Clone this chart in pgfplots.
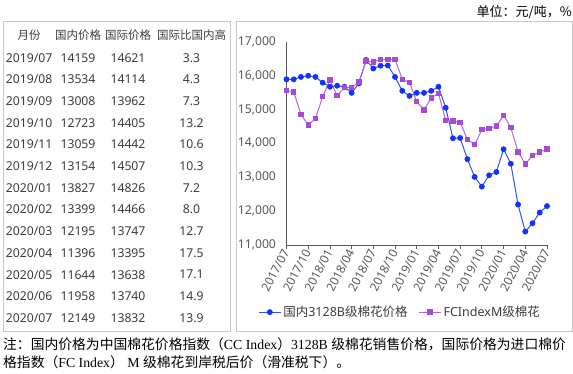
\documentclass[border=0pt]{standalone}
\usepackage{fontspec}
\setmainfont{Liberation Serif}
\newfontfamily\cjk{Noto Sans CJK SC}
\newfontfamily\lat{Noto Sans}
\usepackage{pgfplots}
\pgfplotsset{compat=1.18}
\definecolor{bluel}{RGB}{45,85,240}
\definecolor{bluem}{RGB}{20,50,255}
\definecolor{purl}{RGB}{180,100,220}
\definecolor{purm}{RGB}{165,75,215}
\definecolor{txt}{RGB}{60,60,60}
\definecolor{tick}{RGB}{89,89,89}
\definecolor{boxc}{RGB}{200,200,200}
\begin{document}
\begin{tikzpicture}[x=1pt,y=1pt]
\path (0pt,0pt) rectangle (573pt,373pt);
\draw[boxc, line width=0.8pt] (3.3pt,352pt) rectangle (230pt,42pt);
\draw[boxc, line width=0.8pt] (236.7pt,352pt) rectangle (572.5pt,42pt);
\node[anchor=east, inner sep=0] at (572pt,361pt) {\fontsize{13}{15}\selectfont\cjk 单位：元/吨，\%};
% table header
\begin{scope}[every node/.style={inner sep=0, text=txt}]
\node at (29pt,338pt) {\fontsize{11.5}{14}\selectfont\cjk 月份};
\node at (78pt,338pt) {\fontsize{11.5}{14}\selectfont\cjk 国内价格};
\node at (128pt,338pt) {\fontsize{11.5}{14}\selectfont\cjk 国际价格};
\node at (191.5pt,338pt) {\fontsize{11.5}{14}\selectfont\cjk 国际比国内高};
\foreach \yy/\mm/\a/\b/\c [count=\i from 0] in {
2019/07/14159/14621/3.3,
2019/08/13534/14114/4.3,
2019/09/13008/13962/7.3,
2019/10/12723/14405/13.2,
2019/11/13059/14442/10.6,
2019/12/13154/14507/10.3,
2020/01/13827/14826/7.2,
2020/02/13399/14466/8.0,
2020/03/12195/13747/12.7,
2020/04/11396/13395/17.5,
2020/05/11644/13638/17.1,
2020/06/11958/13740/14.9,
2020/07/12149/13832/13.9}{
\pgfmathsetmacro{\ry}{315.3-21.7*\i}
\node[anchor=west] at (5.7pt,\ry pt) {\fontsize{12.2}{14}\selectfont\lat \yy/\mm};
\node at (78pt,\ry pt) {\fontsize{12.2}{14}\selectfont\lat \a};
\node at (128pt,\ry pt) {\fontsize{12.2}{14}\selectfont\lat \b};
\node at (191.5pt,\ry pt) {\fontsize{12.2}{14}\selectfont\lat \c};
}
\end{scope}
% note
\node[anchor=west, inner sep=0] at (3pt,29pt) {\fontsize{13.8}{15}\selectfont{\cjk 注：国内价格为中国棉花价格指数（}CC Index{\cjk ）}3128B {\cjk 级棉花销售价格，国际价格为进口棉价}};
\node[anchor=west, inner sep=0] at (3pt,11pt) {\fontsize{13.8}{15}\selectfont{\cjk 格指数（}FC Index{\cjk ）} M {\cjk 级棉花到岸税后价（滑准税下）。}};
\begin{axis}[
  at={(286.5pt,128pt)}, anchor=south west,
  width=260.5pt, height=203.3pt, scale only axis,
  xmin=0, xmax=36, ymin=11000, ymax=17000,
  axis x line*=bottom, axis y line*=left,
  axis line style={-, draw=tick, line width=0.9pt},
  xtick={0,3,...,36},
  xticklabels={2017/07,2017/10,2018/01,2018/04,2018/07,2018/10,2019/01,2019/04,2019/07,2019/10,2020/01,2020/04,2020/07},
  ytick={11000,12000,...,17000},
  scaled y ticks=false,
  tick align=outside,
  major tick length=4pt,
  x tick style={draw=tick, line width=0.8pt},
  y tick style={draw=none},
  /pgf/number format/1000 sep={,},
  /pgf/number format/assume math mode=true,
  ticklabel style={font=\fontsize{12.2}{14}\selectfont\lat, text=tick},
  yticklabel style={xshift=-3pt},
  xticklabel style={rotate=62, anchor=east, inner sep=1pt, font=\fontsize{12}{14}\selectfont\lat},
  legend style={at={(0.436,-0.33)}, anchor=center, draw=none, fill=none,
    legend columns=2, font=\fontsize{12.5}{14}\selectfont\lat, text=txt,
    /tikz/every even column/.append style={column sep=9pt}},
  legend image code/.code={\draw[mark repeat=2,mark phase=2] plot coordinates {(0pt,0pt) (11pt,0pt) (22pt,0pt)};},
  clip=false,
]
\addplot[color=bluel, line width=1pt, mark=*, mark size=2.4pt, mark options={fill=bluem, draw=bluem}] table[row sep=\\] {
x y\\
0 15890\\ 1 15890\\ 2 15960\\ 3 15995\\ 4 15960\\ 5 15790\\ 6 15670\\ 7 15700\\ 8 15670\\ 9 15490\\
10 15770\\ 11 16460\\ 12 16210\\ 13 16290\\ 14 16300\\ 15 15960\\ 16 15550\\ 17 15400\\ 18 15490\\ 19 15490\\
20 15550\\ 21 15670\\ 22 15050\\ 23 14150\\ 24 14159\\ 25 13534\\ 26 13008\\ 27 12723\\ 28 13059\\ 29 13154\\
30 13827\\ 31 13399\\ 32 12195\\ 33 11396\\ 34 11644\\ 35 11958\\ 36 12149\\
};
\addlegendentry{{\cjk 国内}3128B{\cjk 级棉花价格}}
\addplot[color=purl, line width=1pt, mark=square*, mark size=2.2pt, mark options={fill=purm, draw=purm}] table[row sep=\\] {
x y\\
0 15565\\ 1 15515\\ 2 14850\\ 3 14540\\ 4 14730\\ 5 15375\\ 6 15870\\ 7 15405\\ 8 15650\\ 9 15640\\
10 15810\\ 11 16430\\ 12 16400\\ 13 16480\\ 14 16470\\ 15 16480\\ 16 15890\\ 17 15800\\ 18 15230\\ 19 14990\\
20 15340\\ 21 15475\\ 22 14680\\ 23 14660\\ 24 14621\\ 25 14114\\ 26 13962\\ 27 14405\\ 28 14442\\ 29 14507\\
30 14826\\ 31 14466\\ 32 13747\\ 33 13395\\ 34 13638\\ 35 13740\\ 36 13832\\
};
\addlegendentry{FCIndexM{\cjk 级棉花}}
\end{axis}
\end{tikzpicture}
\end{document}
